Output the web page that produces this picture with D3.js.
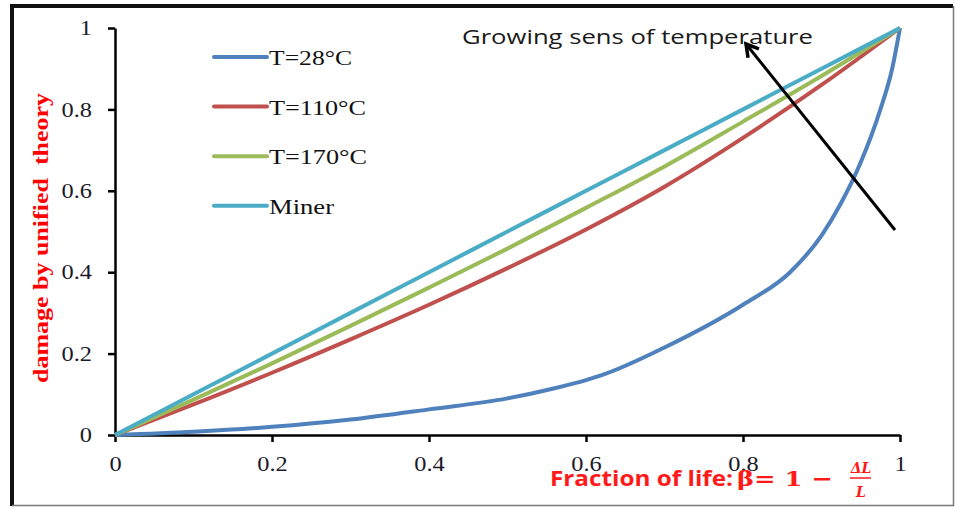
<!DOCTYPE html>
<html>
<head>
<meta charset="utf-8">
<script src="https://cdn.jsdelivr.net/npm/d3@7"></script>
<style>
    body { margin: 0; background: #fff; }
    svg { display: block; }
</style>
</head>
<body>
<div id="chart"></div>
<script>
// fraction of life (x) for the smooth curves
var beta = [0, 0.1, 0.2, 0.3, 0.4, 0.5, 0.6, 0.7, 0.8, 0.9, 1];
var damage110 = [0, 0.075, 0.153, 0.235, 0.32, 0.41, 0.505, 0.61, 0.73, 0.86, 1];
var damage170 = [0, 0.087, 0.176, 0.268, 0.362, 0.458, 0.558, 0.66, 0.77, 0.882, 1];
var damageMiner = [0, 0.1, 0.2, 0.3, 0.4, 0.5, 0.6, 0.7, 0.8, 0.9, 1];
// T=28 has its own sampling (steep end)
var beta28 = [0, 0.1, 0.2, 0.3, 0.4, 0.5, 0.56, 0.6, 0.62, 0.7, 0.8, 0.86, 0.9, 0.925, 0.95, 0.975, 0.99, 1];
var damage28 = [0, 0.008, 0.02, 0.038, 0.063, 0.09, 0.115, 0.135, 0.147, 0.215, 0.32, 0.40, 0.49, 0.57, 0.67, 0.80, 0.9, 1];

var seriesNames = ["T=28\u00b0C", "T=110\u00b0C", "T=170\u00b0C", "Miner"];
var seriesColors = ["#4f81bd", "#c0504d", "#9bbb59", "#4bacc6"];
var tickValues = [0, 0.2, 0.4, 0.6, 0.8, 1];
var tickLabels = ["0", "0.2", "0.4", "0.6", "0.8", "1"];

var width = 955, height = 508;

var svg = d3.select("#chart").append("svg")
    .attr("width", width)
    .attr("height", height);

var x = d3.scaleLinear().domain([0, 1]).range([115, 900]);
var y = d3.scaleLinear().domain([0, 1]).range([435, 28]);

//outer frame
svg.append("line").attr("x1", 12).attr("y1", 6).attr("x2", 953).attr("y2", 6)
    .attr("stroke", "#111").attr("stroke-width", 4);
svg.append("line").attr("x1", 12).attr("y1", 4).attr("x2", 12).attr("y2", 506)
    .attr("stroke", "#111").attr("stroke-width", 4);
svg.append("line").attr("x1", 953.5).attr("y1", 6).attr("x2", 953.5).attr("y2", 506)
    .attr("stroke", "#777").attr("stroke-width", 1.5);
svg.append("line").attr("x1", 12).attr("y1", 505.5).attr("x2", 954).attr("y2", 505.5)
    .attr("stroke", "#777").attr("stroke-width", 1.5);

//axes
var tickFmt = function(d) { return tickLabels[tickValues.indexOf(d)]; };

var yAxis = svg.append("g")
    .attr("transform", "translate(" + x(0) + ",0)")
    .call(d3.axisLeft(y).tickValues(tickValues).tickFormat(tickFmt)
        .tickSize(7).tickSizeOuter(0).tickPadding(16));
var xAxis = svg.append("g")
    .attr("transform", "translate(0," + y(0) + ")")
    .call(d3.axisBottom(x).tickValues(tickValues).tickFormat(tickFmt)
        .tickSize(7).tickSizeOuter(0).tickPadding(14));

svg.selectAll(".domain").attr("stroke", "#000").attr("stroke-width", 2.5);
svg.selectAll(".tick line").attr("stroke", "#000").attr("stroke-width", 2.5);
svg.selectAll(".tick text")
    .attr("font-family", "'Liberation Serif', 'Times New Roman', serif")
    .attr("font-size", 21)
    .attr("fill", "#1a1a2a");
// reference glyphs are a bit wider than Times
svg.selectAll(".tick text").each(function() {
    var w = this.getComputedTextLength();
    d3.select(this).attr("textLength", w * 1.16).attr("lengthAdjust", "spacingAndGlyphs");
});

//series lines
var line = d3.line()
    .curve(d3.curveMonotoneX)
    .x(d => x(d[0]))
    .y(d => y(d[1]));

var seriesData = [
    d3.zip(beta28, damage28),
    d3.zip(beta, damage110),
    d3.zip(beta, damage170),
    d3.zip(beta, damageMiner)
];

for (var i = 0; i < seriesData.length; i++) {
    svg.append("path")
        .attr("d", line(seriesData[i]))
        .attr("fill", "none")
        .attr("stroke", seriesColors[i])
        .attr("stroke-width", 4)
        .attr("stroke-linejoin", "round");
}

//legend
var legendLen = [83, 97, 98, 65];
var legend = svg.append("g").attr("id", "legend");
for (var i = 0; i < seriesNames.length; i++) {
    var ly = 57 + i * 49.6;
    legend.append("line")
        .attr("x1", 214).attr("x2", 267)
        .attr("y1", ly).attr("y2", ly)
        .attr("stroke", seriesColors[i])
        .attr("stroke-width", 4)
        .attr("stroke-linecap", "round");
    legend.append("text")
        .attr("x", 269)
        .attr("y", ly + 8)
        .attr("font-family", "'Liberation Serif', 'Times New Roman', serif")
        .attr("font-size", 20)
        .attr("fill", "#111")
        .attr("textLength", legendLen[i])
        .attr("lengthAdjust", "spacingAndGlyphs")
        .text(seriesNames[i]);
}

//y axis title
svg.append("text")
    .attr("transform", "translate(48,238) rotate(-90)")
    .attr("text-anchor", "middle")
    .attr("font-family", "'Liberation Serif', 'Times New Roman', serif")
    .attr("font-weight", "bold")
    .attr("font-size", 21)
    .attr("fill", "#ff0000")
    .attr("textLength", 290)
    .attr("lengthAdjust", "spacingAndGlyphs")
    .style("white-space", "pre")
    .text("damage by unified  theory");

//x axis title
var xt = svg.append("g").attr("fill", "#ff1a1a").attr("font-weight", "bold");
xt.append("text")
    .attr("x", 550).attr("y", 486)
    .attr("font-family", "'Open Sans', 'Liberation Sans', sans-serif")
    .attr("font-size", 21)
    .attr("textLength", 183)
    .attr("lengthAdjust", "spacingAndGlyphs")
    .text("Fraction of life:");
xt.append("text")
    .attr("x", 737).attr("y", 486)
    .attr("font-family", "'DejaVu Serif', serif")
    .attr("font-size", 21)
    .attr("textLength", 96)
    .attr("lengthAdjust", "spacingAndGlyphs")
    .style("white-space", "pre")
    .text("\u03b2= 1 \u2212");
xt.append("text")
    .attr("x", 861).attr("y", 473)
    .attr("text-anchor", "middle")
    .attr("font-family", "'DejaVu Serif', serif")
    .attr("font-style", "italic")
    .attr("font-size", 14)
    .text("\u0394L");
xt.append("line")
    .attr("x1", 850).attr("x2", 871)
    .attr("y1", 478).attr("y2", 478)
    .attr("stroke", "#ff1a1a").attr("stroke-width", 1.5);
xt.append("text")
    .attr("x", 861).attr("y", 497)
    .attr("text-anchor", "middle")
    .attr("font-family", "'DejaVu Serif', serif")
    .attr("font-style", "italic")
    .attr("font-size", 14)
    .text("L");

//annotation with arrow
svg.append("defs").append("marker")
    .attr("id", "arrow")
    .attr("markerUnits", "userSpaceOnUse")
    .attr("markerWidth", 24)
    .attr("markerHeight", 24)
    .attr("viewBox", "0 0 24 24")
    .attr("refX", 20)
    .attr("refY", 12)
    .attr("orient", "auto")
    .append("path")
    .attr("d", "M8,5 L20,12 L8,19")
    .attr("fill", "none")
    .attr("stroke", "#000")
    .attr("stroke-width", 3.5)
    .attr("stroke-linejoin", "miter");

svg.append("line")
    .attr("x1", 895).attr("y1", 230)
    .attr("x2", 746).attr("y2", 44)
    .attr("stroke", "#000")
    .attr("stroke-width", 3)
    .attr("marker-end", "url(#arrow)");

svg.append("text")
    .attr("x", 462).attr("y", 44)
    .attr("font-family", "'Open Sans', 'Liberation Sans', sans-serif")
    .attr("font-size", 20)
    .attr("fill", "#1a1a1a")
    .attr("textLength", 351)
    .attr("lengthAdjust", "spacingAndGlyphs")
    .text("Growing sens of temperature");
</script>
</body>
</html>
